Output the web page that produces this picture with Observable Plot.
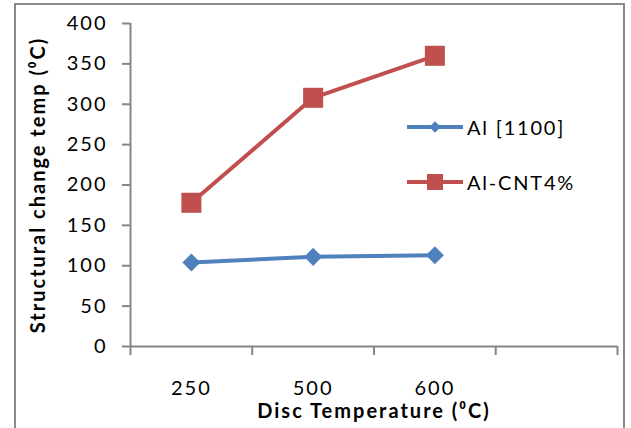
<!DOCTYPE html>
<html>
<head>
<meta charset="utf-8">
<script src="https://cdn.jsdelivr.net/npm/d3@7"></script>
<script src="https://cdn.jsdelivr.net/npm/@observablehq/plot@0.6"></script>
<style>
  html, body { margin: 0; padding: 0; background: #fff; }
  #wrap { position: relative; width: 631px; height: 428px; overflow: hidden; font-family: Lato, "Open Sans", sans-serif; }
  #frame { position: absolute; left: 14px; top: 3px; width: 611px; height: 440px; border: 2px solid #8a8a8a; box-sizing: border-box; pointer-events: none; }
  #legend { position: absolute; left: 407px; top: 0; font-size: 20px; letter-spacing: 1.8px; color: #000; }
  .item { position: absolute; left: 0; display: flex; align-items: center; white-space: nowrap; height: 28px; }
  .item svg { margin-right: 4px; }
  #chart svg text { letter-spacing: 2px; }
</style>
</head>
<body>
<div id="wrap">
  <div id="chart"></div>
  <div id="frame"></div>
  <div id="legend"></div>
</div>
<script>
const categories = ["250", "500", "600"];
const seriesNames = ["Al [1100]", "Al-CNT4%"];
const alValues = [104, 111, 113];
const cntValues = [178, 308, 360];
const yTicks = [0, 50, 100, 150, 200, 250, 300, 350, 400];
const xTitle = "Disc Temperature (\u2070C)";
const yTitle = "Structural change temp (\u2070C)";
const colors = ["#4F81BD", "#C0504D"];

const rows = [];
categories.forEach((c, i) => {
  rows.push({pos: i + 0.5, value: alValues[i], series: seriesNames[0]});
  rows.push({pos: i + 0.5, value: cntValues[i], series: seriesNames[1]});
});
const alRows = rows.filter(d => d.series === seriesNames[0]);
const cntRows = rows.filter(d => d.series === seriesNames[1]);
const gray = "#868686";

const chart = Plot.plot({
  width: 631,
  height: 428,
  marginLeft: 130,
  marginRight: 14,
  marginTop: 23,
  marginBottom: 82,
  style: {fontFamily: "Lato, 'Open Sans', sans-serif", fontSize: "20px", color: "#000", background: "transparent"},
  x: {domain: [0, 4], type: "linear"},
  y: {domain: [0, 400]},
  marks: [
    Plot.axisY({ticks: yTicks, tickSize: 8, tickPadding: 15, label: null, stroke: gray, strokeWidth: 2, strokeOpacity: 1, fill: "#000"}),
    Plot.axisX({ticks: [0, 1, 2, 3, 4], tickSize: 9, tickFormat: () => "", label: null, stroke: gray, strokeWidth: 2, strokeOpacity: 1}),
    Plot.axisX({ticks: categories.map((c, i) => i + 0.5), tickSize: 0, tickPadding: 34, tickFormat: d => categories[Math.floor(d)], label: null, fill: "#000"}),
    Plot.ruleX([0], {stroke: gray, strokeWidth: 2}),
    Plot.ruleY([0], {stroke: gray, strokeWidth: 2}),
    Plot.line(alRows, {x: "pos", y: "value", stroke: colors[0], strokeWidth: 4}),
    Plot.line(cntRows, {x: "pos", y: "value", stroke: colors[1], strokeWidth: 4}),
    Plot.dot(alRows, {x: "pos", y: "value", symbol: "square", r: 7.2, rotate: 45, fill: colors[0]}),
    Plot.dot(cntRows, {x: "pos", y: "value", symbol: "square", r: 11.3, fill: colors[1]}),
    Plot.text([xTitle], {text: d => d, frameAnchor: "bottom", textAnchor: "middle", lineAnchor: "middle", dy: 65, fontWeight: "bold", fontSize: 20, fill: "#000"}),
    Plot.text([yTitle], {text: d => d, frameAnchor: "left", textAnchor: "middle", lineAnchor: "middle", rotate: -90, dx: -92, fontWeight: "bold", fontSize: 20, fill: "#000"})
  ]
});
document.getElementById("chart").appendChild(chart);

// legend
const legend = document.getElementById("legend");
const legendY = [127, 182];
seriesNames.forEach((name, i) => {
  const item = document.createElement("div");
  item.className = "item";
  item.style.top = (legendY[i] - 14) + "px";
  const marker = i === 0
    ? `<rect x="24" y="8" width="8" height="8" fill="${colors[0]}" transform="rotate(45 28 12)"/>`
    : `<rect x="20" y="4" width="16" height="16" fill="${colors[1]}"/>`;
  item.innerHTML = `<svg width="56" height="24"><line x1="0" x2="56" y1="12" y2="12" stroke="${colors[i]}" stroke-width="4"/>${marker}</svg><span>${name}</span>`;
  legend.appendChild(item);
});
</script>
</body>
</html>
